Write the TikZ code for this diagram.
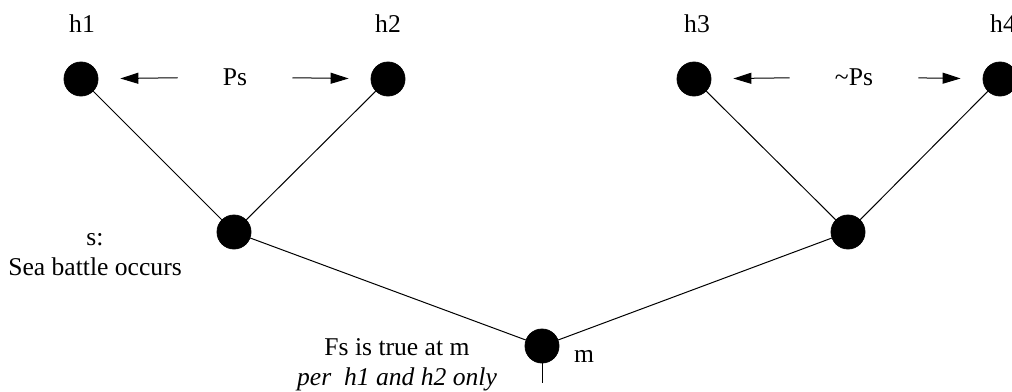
\documentclass[tikz,border=0pt]{standalone}
\usepackage{fontspec}
\setmainfont{Liberation Serif}
\usetikzlibrary{arrows.meta,positioning}

\begin{document}
\begin{tikzpicture}[
  x=0.5pt, y=-0.5pt,
  dot/.style={circle, fill=black, draw=black, inner sep=0pt, minimum size=17pt},
  lbl/.style={font=\fontsize{12.8}{15}\selectfont, inner sep=0pt},
  edge/.style={line width=0.5pt},
  ptr/.style={-{Triangle[length=9pt,width=5.5pt]}, line width=0.5pt,
    shorten <=22.5pt, shorten >=11pt}
]
  \useasboundingbox (0,0) rectangle (1012,391);

  % histories
  \node[dot] (h1) at (81,79) {};
  \node[dot] (h2) at (388,79) {};
  \node[dot] (h3) at (694,79) {};
  \node[dot] (h4) at (1000,79) {};
  \node[lbl] (h1lbl) at (82,24) {h1};
  \node[lbl] (h2lbl) at (388,24) {h2};
  \node[lbl] (h3lbl) at (697,24) {h3};
  \node[lbl] (h4lbl) at (1003,24) {h4};

  % branch points
  \node[dot] (s) at (234,232) {};
  \node[dot] (t) at (848,232) {};
  \node[dot] (m) at (542,346) {};
  \coordinate (past) at (542,383);

  % labels
  \node[lbl] (ps) at (235,77) {Ps};
  \node[lbl] (nps) at (854,77) {\textasciitilde Ps};
  \node[lbl, align=center] (slbl) at (95,255)
    {s:\\Sea battle occurs};
  \node[lbl] (mlbl) at (584,356) {m};
  \node[lbl, align=center] (fslbl) at (397,365)
    {Fs is true at m\\\textit{per\ \ h1 and h2 only}};

  \draw[edge] (h1) -- (s);
  \draw[edge] (h2) -- (s);
  \draw[edge] (h3) -- (t);
  \draw[edge] (h4) -- (t);
  \draw[edge] (s) -- (m);
  \draw[edge] (t) -- (m);
  \draw[edge] (m) -- (past);

  \draw[ptr] (ps) -- (h1);
  \draw[ptr] (ps) -- (h2);
  \draw[ptr] (nps) -- (h3);
  \draw[ptr] (nps) -- (h4);
\end{tikzpicture}
\end{document}
